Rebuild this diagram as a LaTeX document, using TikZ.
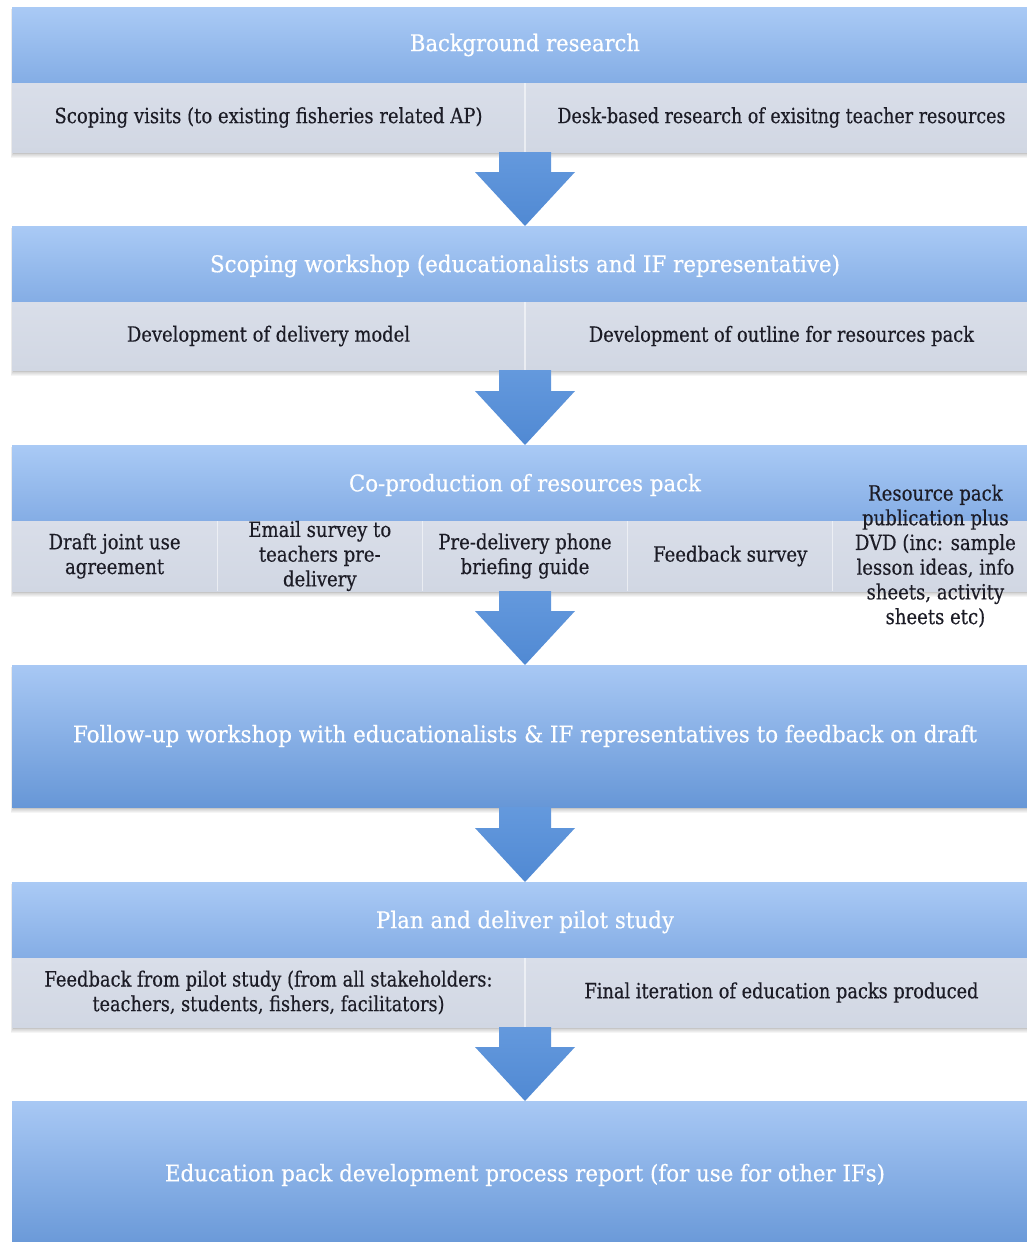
\documentclass[tikz,border=0pt]{standalone}
\usepackage{fontspec}
\setmainfont{DejaVu Serif}[FakeBold=0.4]
\usepackage{graphicx}
\usetikzlibrary{calc}

\definecolor{headtop}{HTML}{AACAF5}
\definecolor{headbot}{HTML}{84ADE5}
\definecolor{bandtop}{HTML}{D9DEE9}
\definecolor{bandbot}{HTML}{D1D7E3}
\definecolor{bigtop}{HTML}{A8C8F4}
\definecolor{bigbot}{HTML}{6797D7}
\definecolor{arrowtop}{HTML}{6499DD}
\definecolor{arrowbot}{HTML}{5089D3}
\definecolor{inktext}{HTML}{1C1C26}

% set a line of text to a given width, keeping its height
\newcommand\fitw[2]{\resizebox{#1pt}{\height}{#2}}
% slightly narrowed line for the stacked column labels
\newcommand\hs[1]{\scalebox{0.86}[1]{#1}}

% soft shadow under a block spanning the given vertical range
\newcommand\blockshadow[2]{%
  \foreach \k in {0,...,5}{%
    \fill[black,opacity=0.04] (12-0.5*\k+1,#1+2) rectangle (1038+0.5*\k,#2+1.5+0.9*\k);}}

% block arrow from the bottom of one block to the top of the next
\newcommand\flowarrow[2]{%
  \shade[top color=arrowtop, bottom color=arrowbot]
    ($(#1.south)+(-26,0)$) -- ($(#1.south)+(26,0)$) --
    ($(#2.north)+(26,-54)$) -- ($(#2.north)+(50,-54)$) --
    (#2.north) --
    ($(#2.north)+(-50,-54)$) -- ($(#2.north)+(-26,-54)$) -- cycle;}

\tikzset{
  blk/.style={anchor=north west, inner sep=0pt, outer sep=0pt,
    minimum width=1026pt, draw=none},
  head/.style={blk, minimum height=#1, top color=headtop, bottom color=headbot},
  band/.style={blk, minimum height=#1, top color=bandtop, bottom color=bandbot},
  big/.style={blk, minimum height=#1, top color=bigtop, bottom color=bigbot},
  headtxt/.style={text=white, font=\fontsize{23}{27}\selectfont, inner sep=0pt},
  bandtxt/.style={text=inktext, font=\fontsize{21}{24.7}\selectfont,
    inner sep=0pt, align=center},
  divider/.style={white, opacity=0.55, line width=1.2pt},
}

\begin{document}
\begin{tikzpicture}[x=1pt,y=-1pt]
\useasboundingbox (0,0) rectangle (1027,1242);
\clip (0,0) rectangle (1027,1242);
\fill[white] (0,0) rectangle (1027,1242);

% shadows
\blockshadow{7}{152}
\blockshadow{226}{370}
\blockshadow{445}{591}
\blockshadow{665}{807}
\blockshadow{882}{1027}

% 1: background research
\node[head=76pt] (h1) at (12,7) {};
\node[band=69pt] (g1) at (12,83) {};
\draw[divider] (g1.north) -- (g1.south);
\node[headtxt] (t1) at (h1.center) {\fitw{230}{Background research}};
\node[bandtxt] (t1a) at ($(g1.west)!0.25!(g1.east)$)
  {\fitw{428}{Scoping visits (to existing fisheries related AP)}};
\node[bandtxt] (t1b) at ($(g1.west)!0.75!(g1.east)$)
  {\fitw{448}{Desk-based research of exisitng teacher resources}};

% 2: scoping workshop
\node[head=76pt] (h2) at (12,226) {};
\node[band=68pt] (g2) at (12,302) {};
\draw[divider] (g2.north) -- (g2.south);
\node[headtxt] (t2) at ($(h2.center)+(0,2)$)
  {\fitw{630}{Scoping workshop (educationalists and IF representative)}};
\node[bandtxt] (t2a) at ($(g2.west)!0.25!(g2.east)$)
  {\fitw{283}{Development of delivery model}};
\node[bandtxt] (t2b) at ($(g2.west)!0.75!(g2.east)$)
  {\fitw{385}{Development of outline for resources pack}};

% 3: co-production
\node[head=76pt] (h3) at (12,445) {};
\node[band=70pt] (g3) at (12,521) {};
\foreach \f in {0.2,0.4,0.6,0.8}
  \draw[divider] ($(g3.north west)!\f!(g3.north east)$) -- ($(g3.south west)!\f!(g3.south east)$);
\node[headtxt] (t3) at ($(h3.center)+(0,2)$) {\fitw{352}{Co-production of resources pack}};
\node[bandtxt] (t3a) at ($(g3.west)!0.1!(g3.east)$)
  {\hs{Draft joint use}\\\hs{agreement}};
\node[bandtxt] (t3b) at ($(g3.west)!0.3!(g3.east)$)
  {\hs{Email survey to}\\\hs{teachers pre-}\\\hs{delivery}};
\node[bandtxt] (t3c) at ($(g3.west)!0.5!(g3.east)$)
  {\hs{Pre-delivery phone}\\\hs{briefing guide}};
\node[bandtxt] (t3d) at ($(g3.west)!0.7!(g3.east)$)
  {\hs{Feedback survey}};
\node[bandtxt] (t3e) at ($(g3.west)!0.9!(g3.east)$)
  {\hs{Resource pack}\\\hs{publication plus}\\\hs{DVD (inc: sample}\\
   \hs{lesson ideas, info}\\\hs{sheets, activity}\\\hs{sheets etc)}};

% 4: follow-up workshop
\node[big=142pt] (b4) at (12,665) {};
\node[headtxt] (t4) at (b4.center)
  {\fitw{904}{Follow-up workshop with educationalists \& IF representatives to feedback on draft}};

% 5: pilot study
\node[head=76pt] (h5) at (12,882) {};
\node[band=69pt] (g5) at (12,958) {};
\draw[divider] (g5.north) -- (g5.south);
\node[headtxt] (t5) at ($(h5.center)+(0,2)$) {\fitw{298}{Plan and deliver pilot study}};
\node[bandtxt] (t5a) at ($(g5.west)!0.25!(g5.east)$)
  {\fitw{448}{Feedback from pilot study (from all stakeholders:}\\
   \fitw{352}{teachers, students, fishers, facilitators)}};
\node[bandtxt] (t5b) at ($(g5.west)!0.75!(g5.east)$)
  {\fitw{394}{Final iteration of education packs produced}};

% 6: process report
\node[big=150pt] (b6) at (12,1101) {};
\node[headtxt] (t6) at ($(b6.north)+(0,74)$)
  {\fitw{720}{Education pack development process report (for use for other IFs)}};

% arrows between the stages
\flowarrow{g1}{h2}
\flowarrow{g2}{h3}
\flowarrow{g3}{b4}
\flowarrow{b4}{h5}
\flowarrow{g5}{b6}
\end{tikzpicture}
\end{document}
